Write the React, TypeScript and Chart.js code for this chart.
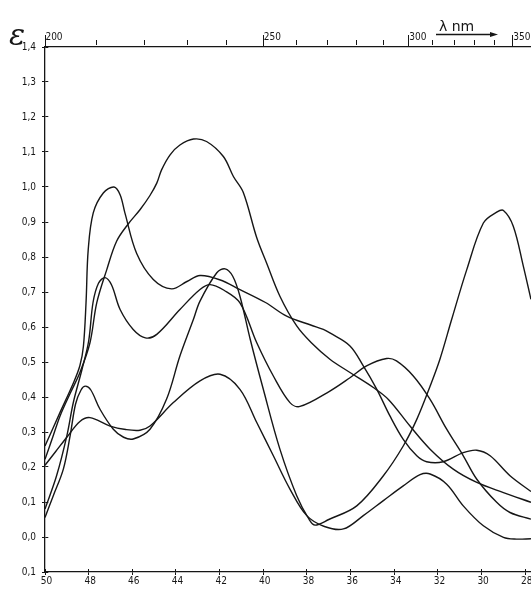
import React, { useEffect, useRef } from 'react';
import { Chart, registerables } from 'chart.js';

Chart.register(...registerables);

// Bottom axis: wavenumber (kK), top axis: wavelength (nm)
const BOTTOM_TICKS = [50, 48, 46, 44, 42, 40, 38, 36, 34, 32, 30, 28];
const TOP_NM = [200, 210, 220, 230, 240, 250, 260, 270, 280, 290, 300, 310, 320, 330, 340, 350];
const TOP_MAJOR_NM = [200, 250, 300, 350];
const Y_TICKS = [-0.1, 0, 0.1, 0.2, 0.3, 0.4, 0.5, 0.6, 0.7, 0.8, 0.9, 1.0, 1.1, 1.2, 1.3, 1.4];
const X_MIN = 27.74;
const X_MAX = 50;

// Curve A: sharp maximum ~1.0 near 46.8 kK
const curveA_kK = [50, 49.31, 48.7, 48.4, 48.24, 48.12, 48.02, 47.79, 47.33, 46.84, 46.56, 46.34, 45.8, 45.04, 44.2, 43.5, 42.9, 42.0, 41.07, 39.9, 38.93, 37.8, 37.25, 36.95, 36.03, 35.42, 34.8, 34.2, 33.59, 32.97, 32.52, 31.76, 30.84, 30.22, 29.61, 28.7, 27.74];
const curveA_eps = [0.26, 0.356, 0.44, 0.49, 0.545, 0.67, 0.821, 0.926, 0.983, 1.0, 0.978, 0.926, 0.81, 0.736, 0.709, 0.73, 0.747, 0.735, 0.707, 0.67, 0.631, 0.605, 0.593, 0.583, 0.546, 0.489, 0.422, 0.346, 0.279, 0.232, 0.215, 0.215, 0.241, 0.248, 0.232, 0.175, 0.13];

// Curve B: broad maximum ~1.14 near 43.2 kK
const curveB_kK = [50, 49.62, 49.31, 48.85, 48.4, 47.94, 47.63, 47.17, 46.72, 46.18, 45.65, 45.2, 44.88, 44.66, 44.27, 43.82, 43.2, 42.6, 41.83, 41.37, 40.92, 40.3, 39.85, 39.24, 38.47, 37.8, 36.95, 36.03, 34.96, 34.27, 33.28, 32.36, 31.3, 30.22, 29.0, 27.74];
const curveB_eps = [0.222, 0.29, 0.346, 0.41, 0.47, 0.555, 0.669, 0.764, 0.845, 0.895, 0.935, 0.975, 1.011, 1.049, 1.092, 1.12, 1.137, 1.13, 1.087, 1.03, 0.985, 0.855, 0.783, 0.688, 0.603, 0.555, 0.508, 0.47, 0.427, 0.393, 0.317, 0.251, 0.194, 0.156, 0.127, 0.099];

// Curve C: maxima 0.74 (47.3), 0.72 (42.4), 0.51 (34.4)
const curveC_kK = [50, 49.47, 49.0, 48.7, 48.3, 48.0, 47.8, 47.55, 47.25, 46.95, 46.56, 45.96, 45.4, 44.88, 43.82, 42.9, 42.44, 41.8, 41.07, 40.3, 39.54, 38.78, 38.32, 36.95, 36.03, 35.27, 34.35, 33.9, 33.13, 32.36, 31.6, 30.84, 30.22, 29.31, 28.7, 27.74];
const curveC_eps = [0.08, 0.175, 0.289, 0.385, 0.48, 0.56, 0.67, 0.725, 0.741, 0.72, 0.65, 0.593, 0.569, 0.579, 0.65, 0.707, 0.721, 0.705, 0.669, 0.555, 0.46, 0.384, 0.373, 0.417, 0.455, 0.489, 0.51, 0.503, 0.46, 0.393, 0.308, 0.232, 0.165, 0.099, 0.07, 0.051];

// Curve D: maxima 0.43 (48.2), 0.77 (41.8), 0.93 (29.0)
const curveD_kK = [50, 49.62, 49.16, 48.85, 48.6, 48.35, 48.15, 47.9, 47.48, 46.87, 46.4, 45.96, 45.19, 44.43, 43.82, 43.2, 42.9, 42.13, 41.75, 41.4, 41.07, 40.6, 40.0, 39.24, 38.47, 37.9, 37.63, 37.0, 35.72, 34.5, 33.59, 32.97, 32.36, 31.91, 31.37, 30.68, 29.92, 29.31, 29.0, 28.55, 28.09, 27.74];
const curveD_eps = [0.056, 0.118, 0.194, 0.289, 0.38, 0.42, 0.431, 0.42, 0.365, 0.308, 0.285, 0.28, 0.308, 0.394, 0.517, 0.622, 0.674, 0.755, 0.766, 0.745, 0.688, 0.565, 0.422, 0.251, 0.118, 0.05, 0.034, 0.05, 0.089, 0.175, 0.26, 0.336, 0.431, 0.508, 0.622, 0.764, 0.897, 0.928, 0.933, 0.888, 0.774, 0.679];

// Curve E: maxima 0.34 (47.9), 0.46 (42.0), 0.18 (32.4)
const curveE_kK = [50, 49.5, 49.0, 48.4, 47.94, 47.02, 46.3, 45.65, 45.19, 44.12, 42.9, 41.98, 41.07, 40.3, 39.54, 38.78, 38.01, 37.2, 36.33, 35.42, 34.5, 33.59, 32.82, 32.36, 31.6, 30.84, 29.92, 29.0, 28.4, 27.74];
const curveE_eps = [0.205, 0.245, 0.285, 0.33, 0.341, 0.317, 0.307, 0.305, 0.317, 0.384, 0.446, 0.465, 0.422, 0.327, 0.232, 0.137, 0.061, 0.03, 0.023, 0.061, 0.104, 0.146, 0.178, 0.18, 0.151, 0.089, 0.032, -0.001, -0.006, -0.005];

const CURVES = [
  [curveA_kK, curveA_eps],
  [curveB_kK, curveB_eps],
  [curveC_kK, curveC_eps],
  [curveD_kK, curveD_eps],
  [curveE_kK, curveE_eps],
];

const INK = '#161616';
const TICK_FONT = { family: '"Liberation Sans Narrow", "DejaVu Sans Condensed", "Liberation Sans", sans-serif', size: 10 };

const notesPlugin = {
  id: 'notes',
  afterDraw(chart: any) {
    const ctx = chart.ctx;
    ctx.save();
    ctx.fillStyle = INK;
    ctx.strokeStyle = INK;
    ctx.font = 'italic 30px "DejaVu Serif", serif';
    ctx.textBaseline = 'alphabetic';
    ctx.fillText('ε', 9, 45);
    ctx.font = '14px "DejaVu Sans", sans-serif';
    ctx.fillText('λ nm', 439, 31);
    ctx.lineWidth = 1.3;
    ctx.beginPath();
    ctx.moveTo(436, 34.5);
    ctx.lineTo(492, 34.5);
    ctx.stroke();
    ctx.beginPath();
    ctx.moveTo(498, 34.5);
    ctx.lineTo(490, 32);
    ctx.lineTo(490, 37);
    ctx.closePath();
    ctx.fill();
    ctx.restore();
  },
};

export default function App() {
  const canvasRef = useRef<HTMLCanvasElement | null>(null);

  useEffect(() => {
    if (!canvasRef.current) return;
    const datasets = CURVES.map(([xs, ys], i) => ({
      label: 'c' + i,
      data: xs.map((x, k) => ({ x, y: ys[k] })),
      borderColor: INK,
      borderWidth: 1.4,
      pointRadius: 0,
      fill: false,
      tension: 0.35,
      xAxisID: 'x',
      yAxisID: 'y',
    }));

    const chart = new Chart(canvasRef.current, {
      type: 'line',
      data: { datasets },
      plugins: [notesPlugin],
      options: {
        animation: false,
        responsive: false,
        devicePixelRatio: 1,
        layout: { padding: 0 },
        plugins: { legend: { display: false }, tooltip: { enabled: false } },
        scales: {
          x: {
            type: 'linear',
            position: 'bottom',
            min: X_MIN,
            max: X_MAX,
            reverse: true,
            afterBuildTicks: (scale: any) => {
              scale.ticks = BOTTOM_TICKS.map((v) => ({ value: v }));
            },
            afterFit: (scale: any) => {
              scale.height = 17;
            },
            ticks: {
              autoSkip: false,
              maxRotation: 0,
              padding: 0,
              labelOffset: 1.5,
              color: INK,
              font: TICK_FONT,
              callback: (v: any) => String(Math.round(Number(v))),
            },
            grid: {
              drawOnChartArea: true,
              color: INK,
              lineWidth: 1,
              tickLength: 3,
              tickColor: INK,
            },
            border: { display: true, color: INK, width: 1.3, dash: [3, 3000], dashOffset: -522 },
          },
          x2: {
            type: 'linear',
            position: 'top',
            min: X_MIN,
            max: X_MAX,
            reverse: true,
            afterBuildTicks: (scale: any) => {
              scale.ticks = TOP_NM.map((nm) => ({ value: 10000 / nm }));
            },
            afterFit: (scale: any) => {
              scale.height = 47;
            },
            ticks: {
              autoSkip: false,
              maxRotation: 0,
              padding: -8,
              labelOffset: 9,
              color: INK,
              font: TICK_FONT,
              callback: (v: any) => {
                const nm = Math.round(10000 / Number(v));
                return TOP_MAJOR_NM.includes(nm) ? String(nm) : '';
              },
            },
            grid: {
              drawOnChartArea: false,
              tickLength: 12,
              tickColor: INK,
              tickWidth: 1,
              tickBorderDash: (ctx: any) => {
                const nm = Math.round(10000 / ctx.tick.value);
                return TOP_MAJOR_NM.includes(nm) ? [] : [0, 5, 5, 100];
              },
            },
            border: { display: true, color: INK, width: 1.3 },
          },
          y: {
            type: 'linear',
            position: 'left',
            min: -0.1,
            max: 1.4,
            afterBuildTicks: (scale: any) => {
              scale.ticks = Y_TICKS.map((v) => ({ value: v }));
            },
            afterFit: (scale: any) => {
              scale.width = 45;
            },
            ticks: {
              autoSkip: false,
              padding: 6,
              color: INK,
              font: TICK_FONT,
              callback: (v: any) => Math.abs(Number(v)).toFixed(1).replace('.', ','),
            },
            grid: {
              drawOnChartArea: true,
              color: INK,
              lineWidth: 1,
              tickLength: 3,
              tickColor: INK,
            },
            border: { display: true, color: INK, width: 1.3, dash: [3, 3000] },
          },
        },
      } as any,
    });
    return () => chart.destroy();
  }, []);

  return (
    <div style={{ position: 'fixed', left: 0, top: 0, width: 531, height: 589, background: '#fff' }}>
      <canvas ref={canvasRef} width={531} height={589} style={{ display: 'block' }} />
    </div>
  );
}
